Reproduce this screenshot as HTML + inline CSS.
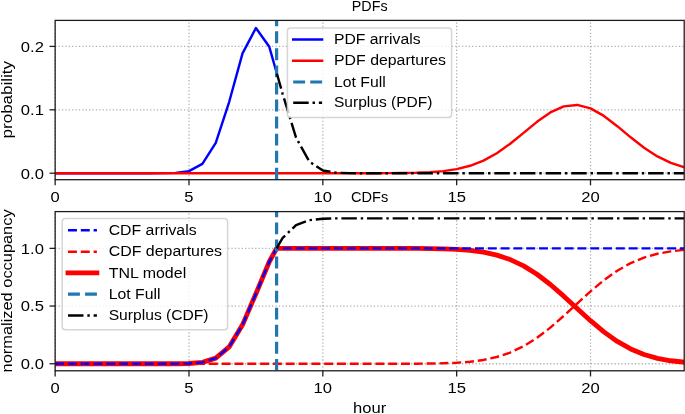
<!DOCTYPE html><html><head><meta charset="utf-8"><title>PDFs CDFs</title><style>html,body{margin:0;padding:0;background:#fff;}svg{display:block;}text{font-family:"Liberation Sans",sans-serif;font-size:15.30px;fill:#000;}</style></head><body>
<svg width="685" height="414" viewBox="0 0 685 414" style="will-change:transform">
<rect x="0" y="0" width="685" height="414" fill="#fff"/>
<defs><clipPath id="c1"><rect x="55.15" y="20.40" width="629.05" height="159.30"/></clipPath><clipPath id="c2"><rect x="55.15" y="211.60" width="629.05" height="159.20"/></clipPath></defs>
<g stroke="#b0b0b0" stroke-width="1.28" stroke-dasharray="1.28 2.11" fill="none">
<path d="M55.15 179.70V20.40"/>
<path d="M188.99 179.70V20.40"/>
<path d="M322.83 179.70V20.40"/>
<path d="M456.67 179.70V20.40"/>
<path d="M590.51 179.70V20.40"/>
<path d="M55.15 173.20H684.20"/>
<path d="M55.15 109.80H684.20"/>
<path d="M55.15 46.40H684.20"/>
<path d="M55.15 370.80V211.60"/>
<path d="M188.99 370.80V211.60"/>
<path d="M322.83 370.80V211.60"/>
<path d="M456.67 370.80V211.60"/>
<path d="M590.51 370.80V211.60"/>
<path d="M55.15 363.75H684.20"/>
<path d="M55.15 306.05H684.20"/>
<path d="M55.15 248.35H684.20"/>
</g>
<g stroke="#1c1c1c" stroke-width="1.28">
<path d="M55.15 179.70v5.64"/>
<path d="M55.15 370.80v5.64"/>
<path d="M188.99 179.70v5.64"/>
<path d="M188.99 370.80v5.64"/>
<path d="M322.83 179.70v5.64"/>
<path d="M322.83 370.80v5.64"/>
<path d="M456.67 179.70v5.64"/>
<path d="M456.67 370.80v5.64"/>
<path d="M590.51 179.70v5.64"/>
<path d="M590.51 370.80v5.64"/>
<path d="M55.15 173.20h-5.64"/>
<path d="M55.15 109.80h-5.64"/>
<path d="M55.15 46.40h-5.64"/>
<path d="M55.15 363.75h-5.64"/>
<path d="M55.15 306.05h-5.64"/>
<path d="M55.15 248.35h-5.64"/>
</g>
<g clip-path="url(#c1)" fill="none" stroke-linejoin="round">
<polyline points="55.15,173.20 68.53,173.20 81.92,173.20 95.30,173.20 108.69,173.20 122.07,173.20 135.45,173.20 148.84,173.20 162.22,173.16 175.61,172.88 188.99,171.15 202.37,163.90 215.76,142.86 229.14,102.05 242.53,53.31 255.91,27.99 269.29,46.80 276.60,72.63" stroke="#0000ff" stroke-width="2.42" stroke-linecap="square"/>
<polyline points="55.15,173.20 68.53,173.20 81.92,173.20 95.30,173.20 108.69,173.20 122.07,173.20 135.45,173.20 148.84,173.20 162.22,173.20 175.61,173.20 188.99,173.20 202.37,173.20 215.76,173.20 229.14,173.20 242.53,173.20 255.91,173.20 269.29,173.20 282.68,173.20 296.06,173.20 309.45,173.20 322.83,173.20 336.21,173.20 349.60,173.20 362.98,173.19 376.37,173.18 389.75,173.13 403.14,173.03 416.52,172.78 429.90,172.23 443.29,171.15 456.67,169.16 470.06,165.79 483.44,160.57 496.82,153.19 510.21,143.73 523.59,132.86 536.98,121.86 550.36,112.47 563.74,106.42 577.13,104.94 590.51,108.34 603.90,115.92 617.28,126.17 630.66,137.31 644.05,147.74 657.43,156.41 670.82,162.91 684.20,167.34" stroke="#ff0000" stroke-width="2.42" stroke-linecap="square"/>
<path d="M276.60 179.70V20.40" stroke="#1f77b4" stroke-width="3.22" stroke-dasharray="11.91 5.15"/>
<polyline points="276.60,72.63 282.68,94.12 296.06,137.64 309.45,161.71 322.83,170.53 336.21,172.75 349.60,173.15 362.98,173.20 376.37,173.20 389.75,173.20 403.14,173.20 416.52,173.20 429.90,173.20 443.29,173.20 456.67,173.20 470.06,173.20 483.44,173.20 496.82,173.20 510.21,173.20 523.59,173.20 536.98,173.20 550.36,173.20 563.74,173.20 577.13,173.20 590.51,173.20 603.90,173.20 617.28,173.20 630.66,173.20 644.05,173.20 657.43,173.20 670.82,173.20 684.20,173.20" stroke="#000" stroke-width="2.42" stroke-dasharray="15.47 3.87 2.42 3.87" stroke-dashoffset="-1.2"/>
</g>
<g clip-path="url(#c2)" fill="none" stroke-linejoin="round">
<polyline points="55.15,363.75 68.53,363.75 81.92,363.75 95.30,363.75 108.69,363.75 122.07,363.75 135.45,363.75 148.84,363.75 162.22,363.75 175.61,363.72 188.99,363.50 202.37,362.37 215.76,358.17 229.14,346.89 242.53,324.87 255.91,293.71 269.29,261.75 276.60,248.35 282.68,248.35 296.06,248.35 309.45,248.35 322.83,248.35 336.21,248.35 349.60,248.35 362.98,248.35 376.37,248.35 389.75,248.36 403.14,248.38 416.52,248.43 429.90,248.55 443.29,248.82 456.67,249.35 470.06,250.37 483.44,252.16 496.82,255.10 510.21,259.57 523.59,265.91 536.98,274.27 550.36,284.51 563.74,296.17 577.13,308.54 590.51,320.72 603.90,331.89 617.28,341.41 630.66,348.96 644.05,354.52 657.43,358.34 670.82,360.77 684.20,362.21" stroke="#ff0000" stroke-width="4.83" stroke-linecap="square"/>
<polyline points="55.15,363.75 68.53,363.75 81.92,363.75 95.30,363.75 108.69,363.75 122.07,363.75 135.45,363.75 148.84,363.75 162.22,363.75 175.61,363.75 188.99,363.75 202.37,363.75 215.76,363.75 229.14,363.75 242.53,363.75 255.91,363.75 269.29,363.75 282.68,363.75 296.06,363.75 309.45,363.75 322.83,363.75 336.21,363.75 349.60,363.75 362.98,363.75 376.37,363.75 389.75,363.74 403.14,363.72 416.52,363.67 429.90,363.55 443.29,363.28 456.67,362.75 470.06,361.73 483.44,359.94 496.82,357.00 510.21,352.53 523.59,346.19 536.98,337.83 550.36,327.59 563.74,315.93 577.13,303.56 590.51,291.38 603.90,280.21 617.28,270.69 630.66,263.14 644.05,257.58 657.43,253.76 670.82,251.33 684.20,249.89" stroke="#ff0000" stroke-width="2.42" stroke-dasharray="8.94 3.87"/>
<polyline points="55.15,363.75 68.53,363.75 81.92,363.75 95.30,363.75 108.69,363.75 122.07,363.75 135.45,363.75 148.84,363.75 162.22,363.75 175.61,363.72 188.99,363.50 202.37,362.37 215.76,358.17 229.14,346.89 242.53,324.87 255.91,293.71 269.29,261.75 276.60,248.35 282.68,248.35 296.06,248.35 309.45,248.35 322.83,248.35 336.21,248.35 349.60,248.35 362.98,248.35 376.37,248.35 389.75,248.35 403.14,248.35 416.52,248.35 429.90,248.35 443.29,248.35 456.67,248.35 470.06,248.35 483.44,248.35 496.82,248.35 510.21,248.35 523.59,248.35 536.98,248.35 550.36,248.35 563.74,248.35 577.13,248.35 590.51,248.35 603.90,248.35 617.28,248.35 630.66,248.35 644.05,248.35 657.43,248.35 670.82,248.35 684.20,248.35" stroke="#0000ff" stroke-width="2.42" stroke-dasharray="8.94 3.87"/>
<path d="M276.60 370.80V211.60" stroke="#1f77b4" stroke-width="3.22" stroke-dasharray="11.91 5.15"/>
<polyline points="276.60,248.35 282.68,237.96 296.06,225.13 309.45,220.11 322.83,218.69 336.21,218.39 349.60,218.35 362.98,218.35 376.37,218.35 389.75,218.35 403.14,218.35 416.52,218.35 429.90,218.35 443.29,218.35 456.67,218.35 470.06,218.35 483.44,218.35 496.82,218.35 510.21,218.35 523.59,218.35 536.98,218.35 550.36,218.35 563.74,218.35 577.13,218.35 590.51,218.35 603.90,218.35 617.28,218.35 630.66,218.35 644.05,218.35 657.43,218.35 670.82,218.35 684.20,218.35" stroke="#000" stroke-width="2.42" stroke-dasharray="15.47 3.87 2.42 3.87"/>
</g>
<rect x="55.15" y="20.40" width="629.05" height="159.30" stroke="#1c1c1c" stroke-width="1.28" fill="none"/>
<rect x="55.15" y="211.60" width="629.05" height="159.20" stroke="#1c1c1c" stroke-width="1.28" fill="none"/>
<text x="55.15" y="201.70" text-anchor="middle" textLength="9.2" lengthAdjust="spacingAndGlyphs" >0</text>
<text x="55.15" y="393.10" text-anchor="middle" textLength="9.2" lengthAdjust="spacingAndGlyphs" >0</text>
<text x="188.99" y="201.70" text-anchor="middle" textLength="9.2" lengthAdjust="spacingAndGlyphs" >5</text>
<text x="188.99" y="393.10" text-anchor="middle" textLength="9.2" lengthAdjust="spacingAndGlyphs" >5</text>
<text x="322.83" y="201.70" text-anchor="middle" textLength="18.5" lengthAdjust="spacingAndGlyphs" >10</text>
<text x="322.83" y="393.10" text-anchor="middle" textLength="18.5" lengthAdjust="spacingAndGlyphs" >10</text>
<text x="456.67" y="201.70" text-anchor="middle" textLength="18.5" lengthAdjust="spacingAndGlyphs" >15</text>
<text x="456.67" y="393.10" text-anchor="middle" textLength="18.5" lengthAdjust="spacingAndGlyphs" >15</text>
<text x="590.51" y="201.70" text-anchor="middle" textLength="18.5" lengthAdjust="spacingAndGlyphs" >20</text>
<text x="590.51" y="393.10" text-anchor="middle" textLength="18.5" lengthAdjust="spacingAndGlyphs" >20</text>
<text x="43.90" y="178.60" text-anchor="end" textLength="23.1" lengthAdjust="spacingAndGlyphs" >0.0</text>
<text x="43.90" y="115.20" text-anchor="end" textLength="23.1" lengthAdjust="spacingAndGlyphs" >0.1</text>
<text x="43.90" y="51.80" text-anchor="end" textLength="23.1" lengthAdjust="spacingAndGlyphs" >0.2</text>
<text x="43.90" y="369.15" text-anchor="end" textLength="23.1" lengthAdjust="spacingAndGlyphs" >0.0</text>
<text x="43.90" y="311.45" text-anchor="end" textLength="23.1" lengthAdjust="spacingAndGlyphs" >0.5</text>
<text x="43.90" y="253.75" text-anchor="end" textLength="23.1" lengthAdjust="spacingAndGlyphs" >1.0</text>
<text x="369.70" y="10.80" text-anchor="middle" textLength="35.8" lengthAdjust="spacingAndGlyphs" >PDFs</text>
<text x="369.70" y="201.60" text-anchor="middle" textLength="37.2" lengthAdjust="spacingAndGlyphs" >CDFs</text>
<text x="369.70" y="412.80" text-anchor="middle" textLength="33.2" lengthAdjust="spacingAndGlyphs" >hour</text>
<text transform="translate(11.6,99.7) rotate(-90)" text-anchor="middle" textLength="77.4" lengthAdjust="spacingAndGlyphs">probability</text>
<text transform="translate(11.6,290.9) rotate(-90)" text-anchor="middle" textLength="163.0" lengthAdjust="spacingAndGlyphs">normalized occupancy</text>
<rect x="287.40" y="28.10" width="164.20" height="89.40" rx="3.2" ry="3.2" fill="#fff" fill-opacity="0.8" stroke="#ccc" stroke-opacity="0.8" stroke-width="1.5"/>
<path d="M293.20 39.50H322.10" stroke="#0000ff" stroke-width="2.42" stroke-linecap="square" fill="none"/>
<text x="334.00" y="44.10" text-anchor="start" textLength="86.5" lengthAdjust="spacingAndGlyphs" >PDF arrivals</text>
<path d="M293.20 60.70H322.10" stroke="#ff0000" stroke-width="2.42" stroke-linecap="square" fill="none"/>
<text x="334.00" y="65.30" text-anchor="start" textLength="112.0" lengthAdjust="spacingAndGlyphs" >PDF departures</text>
<path d="M293.20 82.00H322.10" stroke="#1f77b4" stroke-width="3.22" stroke-dasharray="11.91 5.15" fill="none"/>
<text x="334.00" y="86.60" text-anchor="start" textLength="51.8" lengthAdjust="spacingAndGlyphs" >Lot Full</text>
<path d="M293.20 102.80H322.10" stroke="#000" stroke-width="2.42" stroke-dasharray="15.47 3.87 2.42 3.87" fill="none"/>
<text x="334.00" y="107.40" text-anchor="start" textLength="98.5" lengthAdjust="spacingAndGlyphs" >Surplus (PDF)</text>
<rect x="62.20" y="218.60" width="165.40" height="111.20" rx="3.2" ry="3.2" fill="#fff" fill-opacity="0.8" stroke="#ccc" stroke-opacity="0.8" stroke-width="1.5"/>
<path d="M68.00 230.30H96.90" stroke="#0000ff" stroke-width="2.42" stroke-dasharray="8.94 3.87" fill="none"/>
<text x="108.70" y="234.90" text-anchor="start" textLength="87.9" lengthAdjust="spacingAndGlyphs" >CDF arrivals</text>
<path d="M68.00 251.70H96.90" stroke="#ff0000" stroke-width="2.42" stroke-dasharray="8.94 3.87" fill="none"/>
<text x="108.70" y="256.30" text-anchor="start" textLength="113.4" lengthAdjust="spacingAndGlyphs" >CDF departures</text>
<path d="M68.00 272.90H96.90" stroke="#ff0000" stroke-width="4.83" stroke-linecap="square" fill="none"/>
<text x="108.70" y="277.50" text-anchor="start" textLength="77.5" lengthAdjust="spacingAndGlyphs" >TNL model</text>
<path d="M68.00 294.20H96.90" stroke="#1f77b4" stroke-width="3.22" stroke-dasharray="11.91 5.15" fill="none"/>
<text x="108.70" y="298.80" text-anchor="start" textLength="51.8" lengthAdjust="spacingAndGlyphs" >Lot Full</text>
<path d="M68.00 315.50H96.90" stroke="#000" stroke-width="2.42" stroke-dasharray="15.47 3.87 2.42 3.87" fill="none"/>
<text x="108.70" y="320.10" text-anchor="start" textLength="99.9" lengthAdjust="spacingAndGlyphs" >Surplus (CDF)</text>
</svg></body></html>
